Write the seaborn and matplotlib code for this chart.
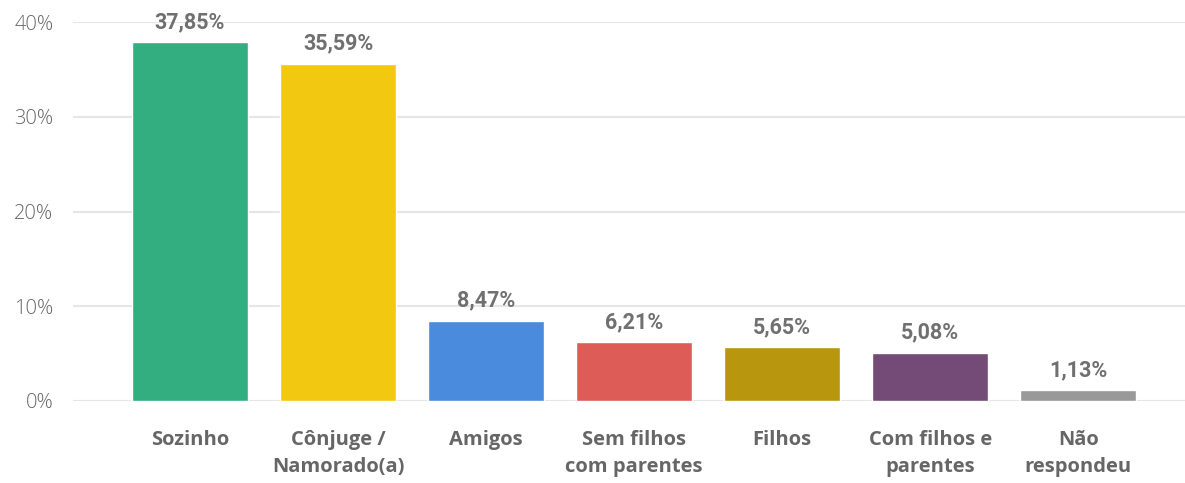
import numpy as np
import pandas as pd
import matplotlib
matplotlib.use("Agg")
import matplotlib.pyplot as plt
import seaborn as sns

# dados do grafico
categorias = ["Sozinho", "Cônjuge /\nNamorado(a)", "Amigos", "Sem filhos\ncom parentes",
              "Filhos", "Com filhos e\nparentes", "Não\nrespondeu"]
valores = [37.85, 35.59, 8.47, 6.21, 5.65, 5.08, 1.13]
rotulos = ["37,85%", "35,59%", "8,47%", "6,21%", "5,65%", "5,08%", "1,13%"]
cores = ["#33AE81", "#F2C811", "#4A8BDD", "#DD5C57", "#B8960E", "#744A77", "#999999"]
yticks = [0, 10, 20, 30, 40]
ytick_labels = ["0%", "10%", "20%", "30%", "40%"]

df = pd.DataFrame({"categoria": categorias, "valor": valores})

sns.set_style("white")
plt.rcParams["font.family"] = ["Open Sans", "DejaVu Sans"]

fig = plt.figure(figsize=(11.85, 4.83), dpi=100)
ax = fig.add_axes([73 / 1185, 82 / 483, 1112 / 1185, 379 / 483])

sns.barplot(data=df, x="categoria", y="valor", hue="categoria", palette=cores,
            width=0.784, legend=False, ax=ax, zorder=3, saturation=1)

ax.set_ylim(0, 40)
ax.set_xlim(-0.79, 6.72)
ax.set_yticks(yticks)
ax.set_yticklabels(ytick_labels, color="#666666", fontsize=14.5, fontweight="light")
ax.set_xticks(range(len(categorias)))
ax.set_xticklabels(categorias, color="#666666", fontsize=14.5, fontweight="bold",
                   linespacing=1.45, multialignment="center")
ax.tick_params(axis="x", length=0, pad=21)
ax.tick_params(axis="y", length=0, pad=14)
ax.set_xlabel("")
ax.set_ylabel("")
ax.grid(axis="y", color="#E6E6E6", linewidth=1.5, zorder=0)
for s in ax.spines.values():
    s.set_visible(False)

for i, (v, r) in enumerate(zip(valores, rotulos)):
    ax.text(i, v + 1.5, r, ha="center", va="baseline", fontsize=15.5, fontweight="bold",
            color="#707070", family=["Roboto", "DejaVu Sans"], clip_on=False)

fig.savefig("out.png", dpi=100)
